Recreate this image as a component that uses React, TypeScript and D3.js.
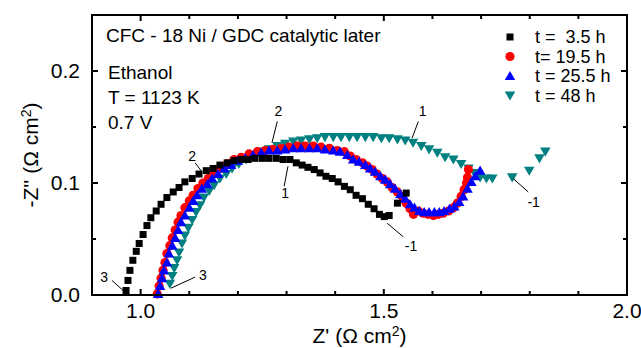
import React from "react";
import * as d3 from "d3";

const W = 641;
const H = 348;

// Series: Z' (ohm cm2) and -Z'' (ohm cm2)
const t35X = [0.970,0.974,0.978,0.984,0.991,0.997,1.005,1.013,1.021,1.032,1.042,1.054,1.067,1.079,1.091,1.106,1.120,1.135,1.149,1.163,1.178,1.192,1.207,1.221,1.235,1.250,1.264,1.279,1.293,1.307,1.320,1.332,1.344,1.357,1.369,1.381,1.394,1.406,1.419,1.431,1.443,1.456,1.468,1.480,1.491,1.501,1.511,1.528,1.546];
const t35Y = [0.004,0.013,0.022,0.031,0.039,0.046,0.054,0.062,0.069,0.075,0.081,0.087,0.092,0.096,0.101,0.104,0.108,0.111,0.113,0.116,0.118,0.120,0.121,0.121,0.122,0.122,0.122,0.122,0.121,0.121,0.118,0.116,0.114,0.112,0.109,0.106,0.104,0.101,0.097,0.094,0.089,0.086,0.081,0.077,0.072,0.070,0.071,0.082,0.091];

const t195X = [1.034,1.038,1.042,1.046,1.050,1.054,1.060,1.065,1.071,1.077,1.083,1.091,1.100,1.108,1.118,1.128,1.139,1.151,1.163,1.178,1.192,1.207,1.223,1.240,1.256,1.272,1.289,1.305,1.322,1.338,1.355,1.371,1.388,1.404,1.419,1.431,1.443,1.456,1.466,1.476,1.486,1.497,1.507,1.517,1.528,1.538,1.546,1.554,1.561,1.571,1.581,1.591,1.602,1.612,1.622,1.633,1.643,1.651,1.659,1.665,1.670,1.672,1.674];
const t195Y = [0.001,0.008,0.015,0.022,0.029,0.037,0.044,0.051,0.058,0.065,0.071,0.078,0.084,0.089,0.095,0.100,0.104,0.109,0.113,0.117,0.121,0.123,0.126,0.128,0.129,0.130,0.131,0.132,0.133,0.133,0.133,0.132,0.131,0.129,0.128,0.124,0.121,0.118,0.115,0.112,0.108,0.104,0.101,0.096,0.092,0.088,0.082,0.077,0.072,0.075,0.073,0.072,0.071,0.072,0.073,0.075,0.078,0.082,0.088,0.094,0.100,0.105,0.112];

const t255X = [1.036,1.040,1.044,1.048,1.054,1.058,1.065,1.071,1.077,1.083,1.091,1.100,1.108,1.116,1.126,1.137,1.147,1.159,1.172,1.186,1.200,1.215,1.231,1.248,1.264,1.281,1.297,1.314,1.330,1.347,1.363,1.379,1.396,1.410,1.425,1.437,1.449,1.462,1.472,1.482,1.493,1.503,1.513,1.523,1.534,1.544,1.554,1.563,1.573,1.583,1.593,1.604,1.614,1.624,1.635,1.645,1.655,1.663,1.672,1.680,1.688,1.698];
const t255Y = [0.001,0.008,0.015,0.022,0.029,0.037,0.044,0.051,0.058,0.065,0.071,0.078,0.084,0.089,0.095,0.099,0.104,0.108,0.113,0.116,0.120,0.122,0.125,0.127,0.129,0.129,0.130,0.131,0.131,0.131,0.131,0.130,0.129,0.128,0.125,0.121,0.119,0.116,0.113,0.110,0.106,0.103,0.099,0.095,0.090,0.086,0.081,0.078,0.075,0.074,0.074,0.074,0.074,0.075,0.077,0.079,0.083,0.088,0.095,0.101,0.106,0.111];

const t48X = [1.060,1.065,1.069,1.075,1.079,1.085,1.091,1.098,1.106,1.114,1.122,1.130,1.141,1.151,1.163,1.176,1.188,1.202,1.217,1.231,1.248,1.264,1.281,1.297,1.314,1.330,1.347,1.363,1.379,1.396,1.412,1.429,1.445,1.462,1.478,1.495,1.511,1.528,1.544,1.560,1.577,1.593,1.610,1.626,1.643,1.659,1.674,1.686,1.698,1.711,1.723,1.764,1.799,1.820,1.832];
const t48Y = [0.010,0.017,0.024,0.031,0.038,0.046,0.053,0.060,0.067,0.074,0.080,0.087,0.093,0.098,0.104,0.108,0.113,0.117,0.121,0.124,0.128,0.130,0.133,0.135,0.137,0.138,0.139,0.140,0.141,0.141,0.141,0.141,0.141,0.141,0.141,0.140,0.140,0.139,0.138,0.136,0.133,0.130,0.127,0.123,0.121,0.117,0.113,0.109,0.105,0.104,0.104,0.105,0.111,0.122,0.128];

const legendLabels = ["t =  3.5 h", "t= 19.5 h", "t = 25.5 h", "t = 48 h"];
const xMajorTicks = [1.0, 1.5, 2.0];
const yMajorTicks = [0.0, 0.1, 0.2];

// Annotations: label, text position, line start, line end (data units)
const annLabels = ["2", "2", "1", "3", "3", "1", "-1", "-1"];
const annText = [[1.106,0.123],[1.283,0.163],[1.297,0.090],[0.925,0.015],[1.128,0.017],[1.580,0.163],[1.556,0.043],[1.808,0.082]];
const annFrom = [[1.112,0.118],[1.281,0.155],[1.295,0.097],[0.941,0.013],[1.112,0.016],[1.571,0.155],[1.507,0.064],[1.766,0.104]];
const annTo = [[1.126,0.110],[1.270,0.136],[1.303,0.115],[0.964,0.004],[1.062,0.006],[1.558,0.140],[1.540,0.052],[1.797,0.092]];

const margin = { left: 92, right: 14, top: 15, bottom: 53 };
const FONT = "Liberation Sans, Arial, sans-serif";

export default function App() {
  const x = d3.scaleLinear().domain([0.9, 2.0]).range([margin.left, W - margin.right]);
  const y = d3.scaleLinear().domain([0, 0.25]).range([H - margin.bottom, margin.top]);
  const x0 = margin.left, x1 = W - margin.right, y0 = H - margin.bottom, y1 = margin.top;

  const xMinor = d3.range(0, 12).map((i) => 0.9 + i * 0.1).filter((v) => !xMajorTicks.some((m) => Math.abs(m - v) < 1e-6));
  const yMinor = [0.05, 0.15];

  const triUp = d3.symbol().type(d3.symbolTriangle).size(48)();
  const sq = 7;

  const pts = (xs: number[], ys: number[]) => xs.map((v, i) => [x(v), y(ys[i])]);

  const marker = (k: number, cx: number, cy: number, key: string) => {
    if (k === 0) return <rect key={key} x={cx - sq / 2} y={cy - sq / 2} width={sq} height={sq} fill="#000" />;
    if (k === 1) return <circle key={key} cx={cx} cy={cy} r={4.6} fill="#ff0000" />;
    if (k === 2) return <path key={key} d={triUp!} transform={`translate(${cx},${cy + 1})`} fill="#0000ff" />;
    return <path key={key} d={triUp!} transform={`translate(${cx},${cy - 1}) rotate(180)`} fill="#008080" />;
  };

  const series = [
    { k: 3, p: pts(t48X, t48Y) },
    { k: 1, p: pts(t195X, t195Y) },
    { k: 2, p: pts(t255X, t255Y) },
    { k: 0, p: pts(t35X, t35Y) },
  ];

  return (
    <svg width={W} height={H} style={{ position: "absolute", left: 0, top: 0, background: "#fff" }} fontFamily={FONT}>
      <rect x={0} y={0} width={W} height={H} fill="#fff" />
      {/* data */}
      {series.map((s) => s.p.map((q, i) => marker(s.k, q[0], q[1], `m${s.k}-${i}`)))}

      {/* annotations */}
      {annLabels.map((l, i) => (
        <g key={`a${i}`}>
          <line x1={x(annFrom[i][0])} y1={y(annFrom[i][1])} x2={x(annTo[i][0])} y2={y(annTo[i][1])} stroke="#000" strokeWidth={1} />
          <text x={x(annText[i][0])} y={y(annText[i][1])} fontSize={14} textAnchor="middle" dominantBaseline="middle">{l}</text>
        </g>
      ))}

      {/* frame */}
      <rect x={x0} y={y1} width={x1 - x0} height={y0 - y1} fill="none" stroke="#000" strokeWidth={2} />

      {/* x ticks */}
      {xMajorTicks.map((v) => (
        <g key={`xt${v}`}>
          <line x1={x(v)} x2={x(v)} y1={y0} y2={y0 - 6} stroke="#000" strokeWidth={2} />
          <line x1={x(v)} x2={x(v)} y1={y1} y2={y1 + 6} stroke="#000" strokeWidth={2} />
          <text x={x(v)} y={y0 + 23} fontSize={21} textAnchor="middle">{v.toFixed(1)}</text>
        </g>
      ))}
      {xMinor.filter((v) => v > 0.95 && v < 1.99).map((v) => (
        <g key={`xm${v.toFixed(2)}`}>
          <line x1={x(v)} x2={x(v)} y1={y0} y2={y0 - 4} stroke="#000" strokeWidth={2} />
          <line x1={x(v)} x2={x(v)} y1={y1} y2={y1 + 4} stroke="#000" strokeWidth={2} />
        </g>
      ))}

      {/* y ticks */}
      {yMajorTicks.map((v) => (
        <g key={`yt${v}`}>
          <line x1={x0} x2={x0 + 6} y1={y(v)} y2={y(v)} stroke="#000" strokeWidth={2} />
          <line x1={x1} x2={x1 - 6} y1={y(v)} y2={y(v)} stroke="#000" strokeWidth={2} />
          <text x={x0 - 12} y={y(v) + 7} fontSize={21} textAnchor="end">{v.toFixed(1)}</text>
        </g>
      ))}
      {yMinor.map((v) => (
        <g key={`ym${v}`}>
          <line x1={x0} x2={x0 + 4} y1={y(v)} y2={y(v)} stroke="#000" strokeWidth={2} />
          <line x1={x1} x2={x1 - 4} y1={y(v)} y2={y(v)} stroke="#000" strokeWidth={2} />
        </g>
      ))}

      {/* axis titles */}
      <text x={(x0 + x1) / 2} y={H - 5} fontSize={21} textAnchor="middle">
        Z' (Ω cm<tspan dy={-7} fontSize={14}>2</tspan><tspan dy={7}>)</tspan>
      </text>
      <text transform={`translate(38,${(y0 + y1) / 2}) rotate(-90)`} fontSize={21} textAnchor="middle">
        -Z'' (Ω cm<tspan dy={-7} fontSize={14}>2</tspan><tspan dy={7}>)</tspan>
      </text>

      {/* header text */}
      <text x={106} y={42} fontSize={19}>CFC - 18 Ni / GDC catalytic later</text>
      <text x={108} y={79} fontSize={19}>Ethanol</text>
      <text x={108} y={104} fontSize={19}>T = 1123 K</text>
      <text x={108} y={129} fontSize={19}>0.7 V</text>

      {/* legend */}
      {legendLabels.map((l, i) => (
        <g key={`lg${i}`}>
          {marker(i, 510, 37 + i * 19.5, `lgm${i}`)}
          <text x={535} y={37 + i * 19.5 + 6} fontSize={18} style={{ whiteSpace: "pre" }}>{l}</text>
        </g>
      ))}
    </svg>
  );
}
